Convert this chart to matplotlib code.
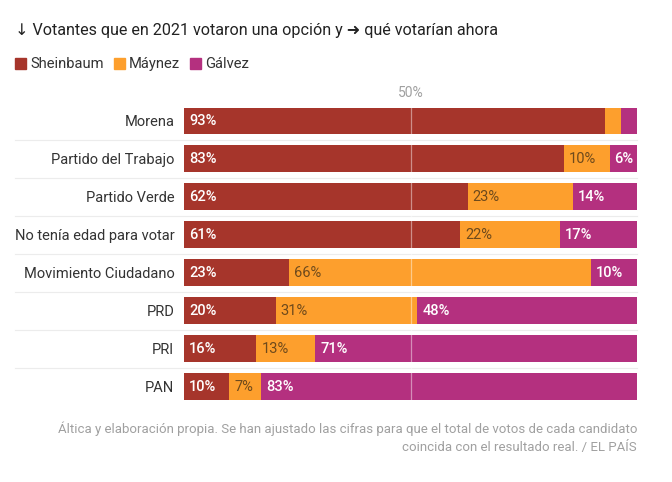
import matplotlib
matplotlib.use("Agg")
import matplotlib.pyplot as plt
from matplotlib.patches import Rectangle

plt.rcParams['font.family'] = ['Roboto', 'DejaVu Sans']

categorias = ["Morena", "Partido del Trabajo", "Partido Verde", "No tenía edad para votar",
              "Movimiento Ciudadano", "PRD", "PRI", "PAN"]
sheinbaum = [93, 83, 62, 61, 23, 20, 16, 10]
maynez = [3.5, 10, 23, 22, 66, 31, 13, 7]
galvez = [3.5, 6, 14, 17, 10, 48, 71, 83]
candidatos = ["Sheinbaum", "Máynez", "Gálvez"]
colores = ["#a6352b", "#fd9f2d", "#b4307f"]
color_texto = ["white", "#6e4a1c", "white"]

fig = plt.figure(figsize=(6.72, 4.82), dpi=100)
ax = fig.add_axes([184 / 672, 1 - 405.5 / 482, 453 / 672, 303.5 / 482])

series = [sheinbaum, maynez, galvez]
for i in range(len(categorias)):
    total = sheinbaum[i] + maynez[i] + galvez[i]
    left = 0
    for k in range(3):
        w = series[k][i] / total * 100
        ax.barh(i, w, left=left, height=0.71, color=colores[k], zorder=2)
        if series[k][i] >= 5:
            ax.text(left + 1.1, i, str(int(series[k][i])) + "%", color=color_texto[k],
                    va='center', ha='left', fontsize=10.5, zorder=4,
                    fontweight='medium' if k != 1 else 'normal')
        left += w

for i in range(len(categorias) - 1):
    ax.axhline(i + 0.5, xmin=-0.373, xmax=1, color="#ececec", lw=0.8, zorder=1, clip_on=False)

ax.axvline(50, color="white", alpha=0.45, lw=0.9, zorder=3)
ax.text(50, -0.55, "50%", ha='center', va='bottom', color="#a0a0a0", fontsize=10)

ax.set_xlim(0, 100)
ax.set_ylim(7.5, -0.5)
ax.set_yticks(range(len(categorias)))
ax.set_yticklabels(categorias, fontsize=10.5, color="#333333")
ax.tick_params(axis='y', length=0, pad=7)
ax.set_xticks([])
for s in ax.spines.values():
    s.set_visible(False)

fig.text(15 / 672, 1 - 31 / 482, "↓ Votantes que en 2021 votaron una opción y ➜ qué votarían ahora",
         fontsize=11.6, color="#222222", va='center', ha='left')

# leyenda
x = 15
for k in range(3):
    fig.patches.append(Rectangle((x / 672, 1 - 69.5 / 482), 11 / 672, 11 / 482,
                                 transform=fig.transFigure, color=colores[k]))
    t = fig.text((x + 15) / 672, 1 - 64 / 482, candidatos[k], fontsize=10.6,
                 color="#333333", va='center', ha='left')
    fig.canvas.draw()
    bb = t.get_window_extent()
    x = bb.x1 + 10

fig.text(637 / 672, 1 - 438 / 482,
         "Áltica y elaboración propia. Se han ajustado las cifras para que el total de votos de cada candidato\n"
         "coincida con el resultado real. / EL PAÍS",
         fontsize=9.5, color="#a0a0a0", ha='right', va='center', linespacing=1.45)

fig.savefig("out.png", dpi=100)
